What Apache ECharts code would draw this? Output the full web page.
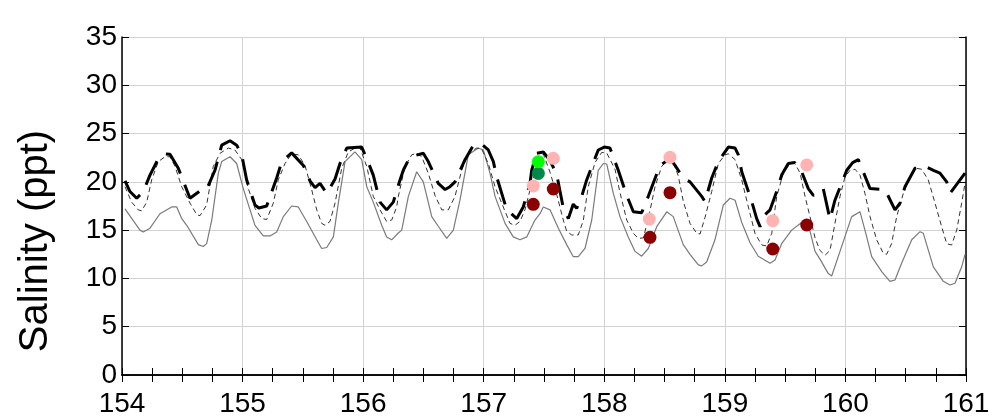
<!DOCTYPE html>
<html><head><meta charset="utf-8">
<script src="https://cdn.jsdelivr.net/npm/echarts@6/dist/echarts.min.js"></script>
<style>html,body{margin:0;padding:0;background:#fff}#c{width:993px;height:418px}</style>
</head><body><div id="c"></div>
<script>
// Bold dashed series
const boldT = [154.025,154.066,154.122,154.177,154.232,154.301,154.357,154.398,154.467,154.564,154.661,154.702,154.771,154.827,154.896,154.951,154.993,155.034,155.103,155.135,155.200,155.283,155.325,155.407,155.504,155.559,155.601,155.642,155.698,155.767,155.808,155.864,155.988,156.030,156.084,156.140,156.195,156.250,156.306,156.333,156.389,156.499,156.540,156.623,156.680,156.720,156.762,156.845,156.914,156.983,157.038,157.080,157.108,157.191,157.274,157.328,157.384,157.398,157.439,157.494,157.550,157.605,157.660,157.702,157.743,157.771,157.813,157.854,157.950,158.000,158.047,158.116,158.186,158.241,158.310,158.365,158.462,158.545,158.587,158.655,158.711,158.808,158.835,158.891,158.946,159.029,159.085,159.112,159.140,159.223,159.264,159.292,159.333,159.375,159.430,159.471,159.526,159.580,159.637,159.692,159.734,159.780,159.816,159.872,159.913,160.011,160.060,160.107,160.204,160.328,160.411,160.453,160.494,160.577,160.660,160.730,160.784,160.840,160.867,160.909,160.992];
const boldV = [20.1,19.0,18.3,19.0,20.7,22.4,22.9,22.85,21.4,18.3,19.2,19.2,21.2,23.8,24.26,23.8,22.8,20.2,17.6,17.3,17.5,20.4,22.1,23.0,21.7,20.1,19.4,19.85,18.8,20.3,21.9,23.5,23.6,22.4,20.7,17.9,17.1,17.9,20.2,21.2,22.6,22.96,22.1,19.85,19.2,19.5,20.0,22.3,23.8,23.9,23.3,22.1,20.5,17.1,16.2,17.4,19.85,21.2,22.96,23.1,22.2,20.8,17.3,16.2,17.7,17.26,18.5,20.2,23.3,23.6,23.5,21.2,18.6,16.9,16.8,18.5,21.7,22.4,21.7,20.4,20.0,18.5,17.96,20.4,22.1,23.6,23.5,22.8,21.05,17.96,16.2,15.36,16.6,17.1,19.0,20.7,21.9,22.0,21.05,19.3,18.6,18.8,19.3,16.1,18.1,21.2,22.0,22.3,19.3,19.2,17.1,17.8,19.5,21.4,21.6,21.2,20.9,20.0,18.8,19.5,20.9];

// Thin dashed series
const thinT = [154.025,154.080,154.135,154.163,154.205,154.246,154.301,154.357,154.398,154.440,154.495,154.564,154.620,154.647,154.702,154.757,154.813,154.882,154.937,154.993,155.048,155.103,155.159,155.200,155.255,155.296,155.352,155.407,155.462,155.518,155.573,155.615,155.656,155.684,155.725,155.767,155.822,155.877,155.947,155.974,156.030,156.084,156.140,156.195,156.237,156.278,156.292,156.347,156.403,156.444,156.486,156.540,156.596,156.652,156.706,156.762,156.817,156.872,156.942,156.983,157.038,157.094,157.149,157.218,157.259,157.301,157.342,157.398,157.439,157.494,157.550,157.605,157.660,157.688,157.730,157.784,157.826,157.867,157.923,157.979,158.020,158.089,158.130,158.186,158.241,158.282,158.324,158.365,158.421,158.476,158.531,158.572,158.614,158.655,158.711,158.767,158.794,158.835,158.891,158.946,159.001,159.029,159.085,159.140,159.195,159.250,159.306,159.347,159.389,159.430,159.485,159.540,159.582,159.624,159.665,159.706,159.748,159.789,159.831,159.872,159.913,159.955,159.996,160.038,160.080,160.121,160.162,160.204,160.259,160.314,160.342,160.383,160.425,160.480,160.535,160.591,160.633,160.687,160.743,160.798,160.840,160.881,160.923,160.964,160.992];
const thinV = [19.5,17.9,17.1,17.0,17.9,20.2,22.1,22.6,22.6,21.6,19.5,17.8,16.6,16.5,17.6,21.6,22.96,23.5,23.3,22.3,19.3,17.26,16.2,16.1,17.8,20.2,21.9,22.9,22.8,21.7,19.2,17.1,15.7,15.5,15.9,17.8,21.4,23.1,23.6,23.5,21.6,18.5,17.1,15.9,16.05,17.4,18.5,21.6,22.8,22.96,22.6,20.9,18.6,17.1,17.1,18.5,21.2,22.96,23.5,23.4,21.9,19.5,17.8,15.7,15.5,15.9,17.1,19.85,21.6,22.9,21.0,18.7,16.05,14.9,14.5,14.5,16.0,19.5,22.0,23.05,23.0,21.3,18.9,16.05,14.67,14.15,14.2,16.2,19.5,21.6,22.3,22.1,20.6,18.0,15.7,14.67,14.6,16.3,19.0,21.9,22.8,22.9,22.3,20.2,17.4,14.67,13.46,13.36,14.67,18.5,20.9,21.9,21.9,20.9,18.5,16.4,14.2,12.9,12.4,12.9,15.7,18.5,20.5,21.2,21.3,20.7,18.8,16.4,14.0,12.6,12.5,13.6,16.4,18.8,20.5,21.4,21.3,20.2,17.8,15.36,13.6,13.46,15.0,17.8,19.85];

// Gray solid series
const grayT = [154.025,154.149,154.177,154.232,154.315,154.412,154.454,154.495,154.537,154.633,154.674,154.702,154.744,154.799,154.827,154.896,154.951,155.006,155.062,155.103,155.172,155.228,155.283,155.338,155.407,155.462,155.532,155.615,155.656,155.698,155.753,155.794,155.850,155.932,155.947,155.988,156.030,156.084,156.154,156.195,156.237,156.292,156.320,156.375,156.444,156.499,156.569,156.623,156.693,156.748,156.803,156.872,156.955,156.997,157.052,157.094,157.177,157.245,157.301,157.357,157.425,157.467,157.494,157.550,157.619,157.688,157.743,157.784,157.840,157.896,157.950,157.992,158.020,158.075,158.130,158.199,158.255,158.310,158.365,158.435,158.518,158.572,158.655,158.711,158.780,158.808,158.849,158.918,158.987,159.043,159.085,159.140,159.209,159.277,159.375,159.416,159.471,159.554,159.637,159.692,159.748,159.789,159.858,159.886,159.955,160.024,160.052,160.121,160.162,160.218,160.301,160.369,160.411,160.466,160.550,160.619,160.646,160.729,160.812,160.867,160.909,160.964,160.992];
const grayV = [17.2,15.0,14.8,15.2,16.7,17.4,17.4,16.2,15.5,13.5,13.3,13.6,16.0,20.9,22.1,22.6,21.9,19.3,17.1,15.5,14.4,14.4,14.8,16.4,17.5,17.4,15.9,14.0,13.1,13.2,14.3,17.8,22.1,23.1,23.3,22.3,19.5,17.9,15.5,14.3,14.0,14.7,15.0,18.5,21.05,20.0,16.4,15.4,14.15,15.0,18.1,22.8,23.5,23.3,20.9,18.5,15.7,14.3,14.0,14.3,16.05,16.7,17.4,17.1,15.2,13.5,12.25,12.25,13.1,16.05,21.2,21.9,21.85,18.8,16.4,14.3,12.8,12.3,13.1,15.36,16.9,16.4,13.5,12.5,11.4,11.3,11.7,14.0,17.6,18.3,18.1,15.8,13.7,12.3,11.57,11.9,13.6,15.0,15.8,15.6,12.8,12.0,10.5,10.25,12.8,15.36,16.4,16.9,15.0,12.25,10.7,9.7,9.84,11.57,14.0,14.84,14.67,11.2,9.7,9.32,9.5,11.2,12.5];

// Sample points
const pinkT = [157.411,157.577,158.373,158.545,159.397,159.679];
const pinkV = [19.57,22.44,16.15,22.54,15.98,21.75];
const redT = [157.411,157.577,158.379,158.545,159.397,159.679];
const redV = [17.67,19.26,14.26,18.88,13.05,15.53];
const limeT = [157.453];
const limeV = [22.09];
const dgreenT = [157.453];
const dgreenV = [20.87];

const yName = 'Salinity (ppt)';

function pairs(t, v) { return t.map((x, i) => [x, v[i]]); }

const FONT = 'Liberation Sans, Arial, sans-serif';
const chart = echarts.init(document.getElementById('c'));
const tickCommon = { show: true, inside: true, length: 7, lineStyle: { color: '#000', width: 1 } };
const axisLine = { show: true, lineStyle: { color: '#000', width: 1.5 } };
const gridLine = { show: true, lineStyle: { color: '#d3d3d3', width: 1 } };

chart.setOption({
  animation: false,
  backgroundColor: '#fff',
  grid: { left: 122, right: 27, top: 37, bottom: 43 },
  xAxis: [
    { type: 'value', min: 154, max: 161, interval: 1, position: 'bottom',
      axisLine, axisTick: tickCommon,
      minorTick: { show: true, splitNumber: 4, length: 7, lineStyle: { color: '#000', width: 1 } },
      splitLine: gridLine,
      axisLabel: { fontSize: 28, color: '#000', fontFamily: FONT, margin: 15 } },
    { type: 'value', min: 154, max: 161, interval: 1, position: 'top',
      axisLine, axisTick: tickCommon,
      minorTick: { show: true, splitNumber: 4, length: 7, lineStyle: { color: '#000', width: 1 } },
      splitLine: { show: false }, axisLabel: { show: false } }
  ],
  yAxis: [
    { type: 'value', min: 0, max: 35, interval: 5, position: 'left',
      axisLine, axisTick: tickCommon, splitLine: gridLine,
      axisLabel: { fontSize: 28, color: '#000', fontFamily: FONT, margin: 5 },
      name: yName, nameLocation: 'middle', nameGap: 66,
      nameTextStyle: { fontSize: 40, color: '#000', fontFamily: FONT, padding: [0, 70, 0, 0] } },
    { type: 'value', min: 0, max: 35, interval: 5, position: 'right',
      axisLine, axisTick: tickCommon, splitLine: { show: false }, axisLabel: { show: false } }
  ],
  series: [
    { type: 'line', name: 'gray', data: pairs(grayT, grayV), showSymbol: false,
      lineStyle: { color: '#7a7a7a', width: 1.2 }, z: 2 },
    { type: 'line', name: 'thin', data: pairs(thinT, thinV), showSymbol: false,
      lineStyle: { color: '#333', width: 1, type: [5, 3.5] }, z: 3 },
    { type: 'line', name: 'bold', data: pairs(boldT, boldV), showSymbol: false,
      lineStyle: { color: '#000', width: 3, type: [26, 12] }, z: 4 },
    { type: 'scatter', data: pairs(pinkT, pinkV), symbolSize: 13,
      itemStyle: { color: '#FFB3B3', opacity: 1 }, z: 5 },
    { type: 'scatter', data: pairs(redT, redV), symbolSize: 13,
      itemStyle: { color: '#8B0000', opacity: 1 }, z: 5 },
    { type: 'scatter', data: pairs(dgreenT, dgreenV), symbolSize: 13,
      itemStyle: { color: '#00884A', opacity: 1 }, z: 5 },
    { type: 'scatter', data: pairs(limeT, limeV), symbolSize: 13,
      itemStyle: { color: '#00FF00', opacity: 1 }, z: 6 }
  ]
});
</script>
</body></html>
